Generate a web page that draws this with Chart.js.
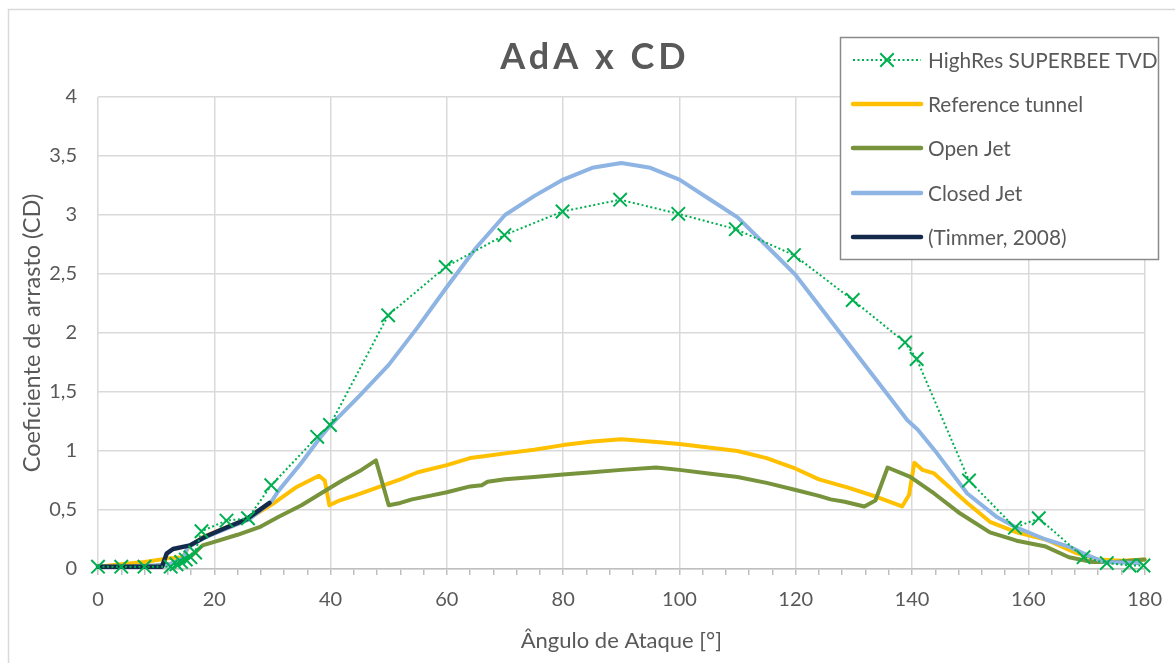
<!DOCTYPE html>
<html>
<head>
<meta charset="utf-8">
<script src="https://cdn.jsdelivr.net/npm/chart.js@4.4.1/dist/chart.umd.min.js"></script>
<style>
  html, body { margin: 0; padding: 0; background: #ffffff; }
  #wrap { width: 1175px; height: 663px; position: relative; }
</style>
</head>
<body>
<div id="wrap"><canvas id="chart" width="1175" height="663"></canvas></div>
<script>
const FONT = 'Lato, "Open Sans", "DejaVu Sans", sans-serif';
const TEXT = '#595959';

// Texts
const chartTitle = 'AdA x CD';
const xAxisTitle = 'Ângulo de Ataque [°]';
const yAxisTitle = 'Coeficiente de arrasto (CD)';
const xTickLabels = ['0', '20', '40', '60', '80', '100', '120', '140', '160', '180'];
const yTickLabels = ['0', '0,5', '1', '1,5', '2', '2,5', '3', '3,5', '4'];
const seriesNames = ['HighRes SUPERBEE TVD', 'Reference tunnel', 'Open Jet', 'Closed Jet', '(Timmer, 2008)'];

// HighRes SUPERBEE TVD
const highResAngle = [0, 4, 8, 12.5, 13.5, 14.3, 15.1, 15.9, 16.7, 17.8, 22.1, 25.8, 29.8, 37.7, 39.9, 49.9, 59.8, 69.9, 79.9, 89.8, 99.8, 109.7, 119.7, 129.8, 138.8, 140.8, 149.8, 157.7, 161.8, 169.5, 173.5, 177.4, 179.8];
const highResCd    = [0.02, 0.02, 0.02, 0.02, 0.04, 0.06, 0.08, 0.10, 0.14, 0.32, 0.41, 0.43, 0.71, 1.12, 1.22, 2.15, 2.56, 2.83, 3.03, 3.13, 3.01, 2.88, 2.66, 2.28, 1.92, 1.78, 0.75, 0.35, 0.43, 0.10, 0.05, 0.03, 0.03];

// Reference tunnel
const refAngle = [0, 4, 8, 12, 14.6, 15.5, 18, 22, 26, 30, 34, 38, 39, 39.8, 41.5, 44, 48, 52, 55, 60, 64, 67, 70, 75, 80, 85, 90, 95, 100, 105, 110, 115, 120, 124, 129, 134, 138.3, 139.5, 140.4, 141.8, 143.8, 149.5, 153.4, 158, 163, 168, 172, 176, 180];
const refCd    = [0.02, 0.04, 0.06, 0.09, 0.10, 0.18, 0.27, 0.35, 0.43, 0.55, 0.69, 0.79, 0.75, 0.54, 0.58, 0.62, 0.69, 0.76, 0.82, 0.88, 0.94, 0.96, 0.98, 1.01, 1.05, 1.08, 1.10, 1.08, 1.06, 1.03, 1.00, 0.94, 0.85, 0.76, 0.69, 0.61, 0.53, 0.63, 0.90, 0.84, 0.81, 0.56, 0.40, 0.31, 0.25, 0.14, 0.08, 0.07, 0.08];

// Open Jet
const openAngle = [0, 5, 10, 12.3, 15.8, 18, 20, 24, 28, 31, 35, 40, 42, 45, 47.8, 50, 52, 54, 57, 60, 64, 66, 67, 70, 75, 80, 85, 90, 96, 100, 105, 110, 115, 120, 124, 126, 128.4, 131.8, 133.7, 135.8, 139.7, 143.8, 148.3, 153.4, 158, 163, 167, 171, 175, 180];
const openCd    = [0.02, 0.02, 0.03, 0.04, 0.10, 0.20, 0.23, 0.29, 0.36, 0.44, 0.54, 0.69, 0.75, 0.83, 0.92, 0.54, 0.56, 0.59, 0.62, 0.65, 0.70, 0.71, 0.74, 0.76, 0.78, 0.80, 0.82, 0.84, 0.86, 0.84, 0.81, 0.78, 0.73, 0.67, 0.62, 0.59, 0.57, 0.53, 0.58, 0.86, 0.78, 0.64, 0.47, 0.31, 0.24, 0.19, 0.10, 0.06, 0.06, 0.08];

// Closed Jet
const closedAngle = [0, 5, 10, 11.8, 14.6, 15.4, 18, 22, 26, 29.8, 31, 35, 38, 40, 45, 50, 55, 60, 65, 70, 75, 80, 85, 90, 95, 100, 105, 110, 117, 120, 130, 139.2, 141, 144.3, 149.5, 154.6, 158, 163, 167, 170, 173, 179];
const closedCd    = [0.02, 0.02, 0.03, 0.03, 0.09, 0.18, 0.26, 0.34, 0.42, 0.57, 0.66, 0.90, 1.10, 1.22, 1.47, 1.73, 2.05, 2.39, 2.72, 3.00, 3.16, 3.30, 3.40, 3.44, 3.40, 3.30, 3.14, 2.98, 2.64, 2.49, 1.85, 1.26, 1.18, 0.98, 0.64, 0.44, 0.35, 0.25, 0.19, 0.12, 0.06, 0.05];

// (Timmer, 2008)
const timmerAngle = [0, 11, 11.8, 12.9, 15.8, 18.7, 22, 25.5, 29.5];
const timmerCd    = [0.02, 0.02, 0.13, 0.17, 0.20, 0.28, 0.35, 0.42, 0.56];

const toPoints = (xs, ys) => xs.map((x, i) => ({ x: x, y: ys[i] }));

const colors = {
  highRes: '#00b050',
  ref: '#ffc000',
  open: '#77933c',
  closed: '#8eb4e3',
  timmer: '#142a4c'
};

const MARKER_R = 9.5;

const lineDefaults = { showLine: true, pointRadius: 0, pointHoverRadius: 0, tension: 0, clip: false, borderJoinStyle: 'round', borderCapStyle: 'round' };

const datasets = [
  Object.assign({}, lineDefaults, {
    label: seriesNames[0], data: toPoints(highResAngle, highResCd),
    borderColor: colors.highRes, backgroundColor: colors.highRes,
    borderWidth: 2, borderDash: [2, 2.5], borderCapStyle: 'butt',
    pointStyle: 'crossRot', pointRadius: MARKER_R, pointBorderWidth: 2, pointBorderColor: colors.highRes,
    order: 0
  }),
  Object.assign({}, lineDefaults, {
    label: seriesNames[1], data: toPoints(refAngle, refCd),
    borderColor: colors.ref, backgroundColor: colors.ref, borderWidth: 4, order: 4
  }),
  Object.assign({}, lineDefaults, {
    label: seriesNames[2], data: toPoints(openAngle, openCd),
    borderColor: colors.open, backgroundColor: colors.open, borderWidth: 4, order: 3
  }),
  Object.assign({}, lineDefaults, {
    label: seriesNames[3], data: toPoints(closedAngle, closedCd),
    borderColor: colors.closed, backgroundColor: colors.closed, borderWidth: 4, order: 2
  }),
  Object.assign({}, lineDefaults, {
    label: seriesNames[4], data: toPoints(timmerAngle, timmerCd),
    borderColor: colors.timmer, backgroundColor: colors.timmer, borderWidth: 4.5, order: 1
  })
];

// Frame, title and the boxed legend that sits over the plot
const decorations = {
  id: 'decorations',
  beforeDraw(chart) {
    const ctx = chart.ctx;
    ctx.save();
    ctx.fillStyle = '#ffffff';
    ctx.fillRect(0, 0, chart.width, chart.height);
    ctx.strokeStyle = '#d9d9d9';
    ctx.lineWidth = 1.5;
    ctx.strokeRect(8.5, 9.5, chart.width + 20, chart.height + 20);
    ctx.restore();
  },
  afterDraw(chart) {
    const ctx = chart.ctx;
    ctx.save();
    // title
    ctx.fillStyle = TEXT;
    ctx.font = 'bold 36px ' + FONT;
    ctx.textAlign = 'center';
    ctx.textBaseline = 'middle';
    if ('letterSpacing' in ctx) ctx.letterSpacing = '4px';
    ctx.fillText(chartTitle, 595, 57);
    if ('letterSpacing' in ctx) ctx.letterSpacing = '0px';

    // legend box
    const box = { x: 840.5, y: 37.5, w: 318, h: 222 };
    ctx.fillStyle = '#ffffff';
    ctx.fillRect(box.x, box.y, box.w, box.h);
    ctx.strokeStyle = '#8a8a8a';
    ctx.lineWidth = 1.5;
    ctx.strokeRect(box.x, box.y, box.w, box.h);

    const rowY = [60, 104, 148, 193, 237];
    const x0 = 853, x1 = 921, tx = 928;
    ctx.font = '20.8px ' + FONT;
    ctx.textAlign = 'left';
    ctx.textBaseline = 'middle';
    chart.data.datasets.forEach((ds, i) => {
      const y = rowY[i];
      ctx.save();
      ctx.strokeStyle = ds.borderColor;
      ctx.lineWidth = i === 0 ? 2 : 4.5;
      ctx.lineCap = i === 0 ? 'butt' : 'round';
      if (ds.borderDash) ctx.setLineDash(ds.borderDash);
      ctx.beginPath();
      ctx.moveTo(x0, y);
      ctx.lineTo(x1, y);
      ctx.stroke();
      ctx.restore();
      if (ds.pointStyle === 'crossRot') {
        const cx = (x0 + x1) / 2, r = MARKER_R * Math.SQRT1_2;
        ctx.save();
        ctx.strokeStyle = ds.pointBorderColor;
        ctx.lineWidth = 2;
        ctx.beginPath();
        ctx.moveTo(cx - r, y - r); ctx.lineTo(cx + r, y + r);
        ctx.moveTo(cx + r, y - r); ctx.lineTo(cx - r, y + r);
        ctx.stroke();
        ctx.restore();
      }
      ctx.fillStyle = TEXT;
      ctx.fillText(ds.label, tx, y + 1);
    });
    ctx.restore();
  }
};

new Chart(document.getElementById('chart'), {
  type: 'scatter',
  data: { datasets: datasets },
  options: {
    responsive: false,
    animation: false,
    events: [],
    layout: { padding: { left: 10, right: 27, top: 97, bottom: 0 } },
    plugins: {
      legend: { display: false },
      title: { display: false },
      tooltip: { enabled: false }
    },
    scales: {
      x: {
        type: 'linear', min: 0, max: 180,
        afterFit(scale) { scale.height = 94; },
        ticks: {
          stepSize: 4, autoSkip: false, maxRotation: 0, minRotation: 0,
          color: TEXT, font: { family: FONT, size: 20 }, padding: 13,
          callback: (v) => (v % 20 === 0 ? xTickLabels[v / 20] : '')
        },
        grid: {
          color: (c) => (c.tick && c.tick.value % 20 === 0 ? '#d9d9d9' : 'rgba(0,0,0,0)'),
          lineWidth: 1.5,
          tickColor: '#bfbfbf', tickLength: 6, tickWidth: 1.5
        },
        border: { display: true, color: '#bfbfbf', width: 1.5 },
        title: {
          display: true, text: xAxisTitle, color: TEXT,
          font: { family: FONT, size: 22 }, padding: { top: 0, bottom: 9 }
        }
      },
      y: {
        type: 'linear', min: 0, max: 4,
        afterFit(scale) { scale.width = 88; },
        ticks: {
          stepSize: 0.5, color: TEXT, font: { family: FONT, size: 20 }, padding: 21,
          callback: (v) => yTickLabels[Math.round(v * 2)]
        },
        grid: { color: '#d9d9d9', lineWidth: 1.5, drawTicks: false },
        border: { display: false },
        title: {
          display: true, text: yAxisTitle, color: TEXT,
          font: { family: FONT, size: 23.5 }, padding: { top: 8, bottom: 0 }
        }
      }
    }
  },
  plugins: [decorations]
});
</script>
</body>
</html>
